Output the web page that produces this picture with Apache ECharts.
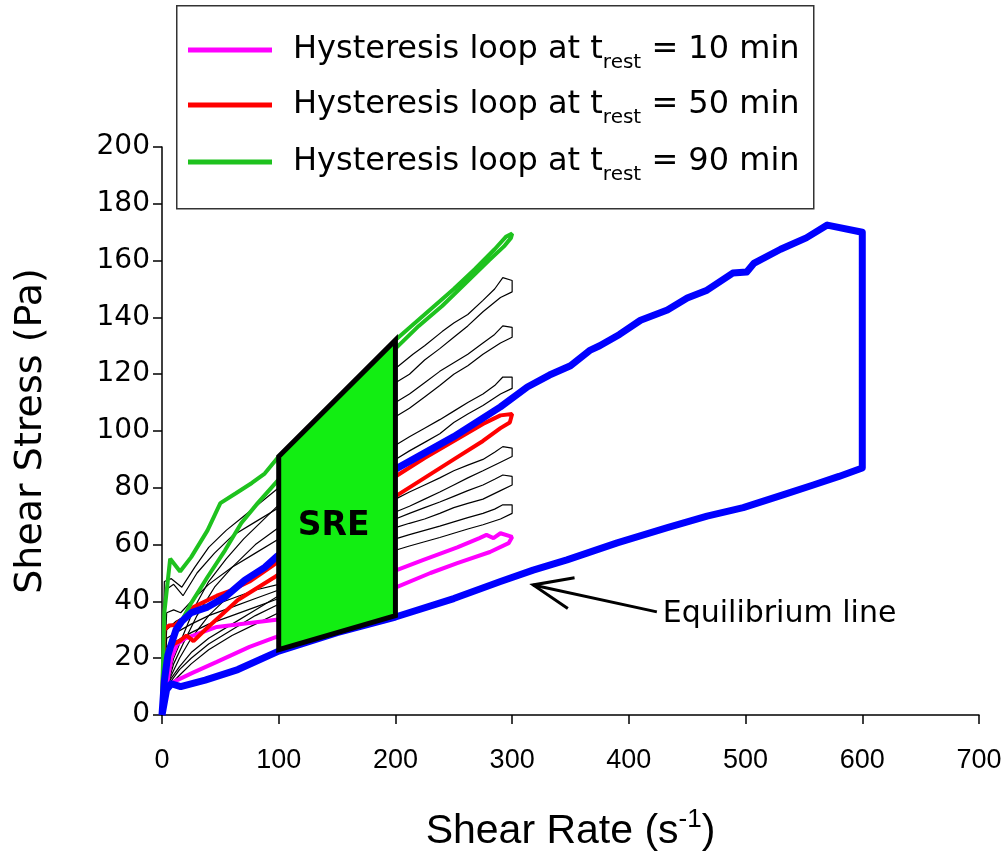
<!DOCTYPE html>
<html><head><meta charset="utf-8">
<script src="https://cdn.jsdelivr.net/npm/echarts@6/dist/echarts.min.js"></script>
<style>html,body{margin:0;padding:0;background:#fff}#c{width:1006px;height:860px}</style>
</head><body><div id="c"></div>
<script>
// ---------- axes ----------
const xAxisRange = [0, 700, 100];
const yAxisRange = [0, 200, 20];
const xTitle = 'Shear Rate (s';
const xTitleSup = '-1';
const yTitle = 'Shear Stress (Pa)';

// ---------- legend ----------
const legendNames = ['10 min', '50 min', '90 min'];
const legendColors = ['#ff00ff', '#ff0000', '#1ec21e'];

// ---------- equilibrium (blue) loop, shear rate / shear stress ----------
const blueLoop = [[0,0],[2,12],[5,21],[8,25],[12,30],[17,33],[25,36],[39,38],[54,41.5],[71,47.5],[88,52],[99,56],[150,72],[202,87],[250,98],[290,108.5],[313,115.5],[332,119.7],[350,123],[367,128.5],[375,130],[392,134],[410,139],[433,142.6],[450,146.8],[467,149.6],[489,155.6],[501,156],[507,159],[530,164],[552,168],[570,172.5],[600,170],[600,128],[600,87],[580,84],[558,81],[532,77.5],[498,73],[467,70],[433,66],[390,60.6],[347,54.6],[318,51],[290,47],[250,41],[200,34.5],[150,29],[100,22.5],[65,16],[37,12.3],[16,10],[8,11],[4,9],[0,0]];

// ---------- coloured hysteresis loops ----------
const loop10 = [[0,3],[4,10],[8,20],[13,25],[20,27],[27,28],[47,31],[75,32.4],[98,33.5],[150,42],[201,51],[224,54.6],[253,59],[272,62.3],[278,63.4],[284,62.3],[290,64],[300,62.7],[297,60.5],[281,57.4],[253,53.5],[230,50],[201,45],[150,36],[98,27.5],[75,24],[47,18.7],[27,15],[13,12.3],[4,10],[0,3]];
const loop50 = [[0,3],[2,30],[6,31.5],[11,31.7],[18,34],[27,38],[34,39.4],[47,42],[60,44],[75,47],[98,53.5],[150,68],[200,84],[225,90.5],[250,96.5],[275,102.5],[290,105.5],[300,106],[298,103],[290,101],[275,96.5],[250,90],[225,83.5],[200,77],[150,63],[97,48.7],[65,40.5],[37,30],[27,26],[21,28],[15,26],[10,25],[5,22],[2,12],[0,3]];
const loop90 = [[0,5],[2,36],[7,55],[15.5,50.5],[25,55.6],[39,65],[50,74.6],[63,78],[77,81.7],[88,85],[100,91],[150,111],[200,132],[225,141],[250,150],[268,157],[285,164],[295,168.5],[300,169.5],[299,168],[293,165],[280,160],[260,152],[240,144],[220,137],[200,129],[150,106],[98,82],[82,74.6],[68,67.6],[54,58],[39,48.6],[25,39.4],[14,31],[5,23],[1,13],[0,5]];

// ---------- intermediate (black) loops ----------
const loopA = [[0,0],[2,47],[8,48],[17,45],[28,52],[40,59],[55,65],[70,70],[85,75],[100,80],[150,101],[200,122],[215,127],[225,130],[240,135],[250,138],[262,141],[275,146],[285,150],[292,154],[300,153],[300,149],[290,147],[275,142],[262,137],[250,133],[238,129],[225,125],[212,120],[200,117],[150,96],[100,74],[85,68],[70,62],[55,55],[40,47],[28,38],[18,28],[10,20],[5,12],[2,6]];
const loopB = [[0,0],[3,44],[10,46],[18,42],[30,50],[45,57],[60,63],[80,68],[100,73],[150,91],[200,110],[212,113],[225,117],[238,121],[250,124],[262,127],[275,131],[285,134],[292,137],[300,136.5],[300,133],[290,131],[275,127],[262,123],[250,120],[238,116],[225,112],[212,108],[200,105],[150,85],[100,66],[80,60],[60,52],[45,45],[30,35],[18,25],[10,18],[5,11],[2,5]];
const loopC = [[0,0],[4,36],[10,37],[16,36],[25,40],[40,46],[60,52],[80,57],[100,62],[150,78],[200,95],[212,98],[225,101],[238,104],[250,107],[262,110],[275,113],[285,116],[292,119],[300,119],[300,115],[290,113],[275,109],[262,106],[250,103],[238,99],[225,96],[212,93],[200,90],[150,73],[100,56],[80,50],[60,43],[40,35],[25,27],[15,20],[8,14],[4,10],[1,4]];
const loopD = [[0,0],[4,30],[12,33],[25,36],[40,38],[60,41],[80,44],[100,46],[150,61],[200,76],[212,78.5],[225,81],[238,83.5],[250,86],[262,88],[275,90],[285,92.5],[292,94.5],[300,94],[300,91],[290,89],[275,86],[262,83.5],[250,81],[238,78.5],[225,76],[212,73.5],[200,71.5],[150,57],[100,42],[80,37],[60,32],[40,27],[25,22],[15,17],[8,13],[4,10],[1,4]];
const loopE = [[0,0],[4,27],[12,29],[25,32],[40,35],[60,38],[80,41],[100,44],[150,56],[200,69],[212,71],[225,73],[238,75],[250,77],[262,79],[275,81],[285,83],[292,84.5],[300,84],[300,81],[290,79],[275,76],[262,74.5],[250,73],[238,71],[225,69],[212,67.5],[200,66],[150,52],[100,39],[80,35],[60,30],[40,25],[25,20],[15,16],[8,12],[4,9],[1,4]];
const loopF = [[0,0],[4,24],[12,26],[25,29],[40,32],[60,35],[80,38],[100,41],[150,51],[200,62],[212,63.5],[225,65],[238,66.5],[250,68],[262,69.5],[275,71],[285,72.5],[292,74],[300,74],[300,71],[290,69],[275,67],[262,65.5],[250,64],[238,62.5],[225,61],[212,59.5],[200,58],[150,47],[100,36],[80,32],[60,28],[40,23],[25,18],[15,14],[8,11],[4,9],[1,4]];
const blackLoops = [loopA, loopB, loopC, loopD, loopE, loopF];

// ---------- SRE area and annotation ----------
const srePolygon = [[100,91],[200,132],[200,35],[100,23]];
const sreLabelPos = [147, 66.5];
const sreLabel = 'SRE';
const arrowTail = [424, 36.3];
const arrowTip = [318, 45.8];
const eqLabel = 'Equilibrium line';
const eqLabelPos = [429, 35.5];

const chart = echarts.init(document.getElementById('c'), null, {renderer: 'canvas'});
const FONT = 'DejaVu Sans';
const XFONT = '"Liberation Sans", Arial, sans-serif';

const series = [];
blackLoops.forEach((d, i) => series.push({
  name: 'loop' + i, type: 'line', data: d, symbol: 'none', smooth: false, z: 2,
  lineStyle: {color: '#000', width: 1.2}, silent: true
}));
series.push({name: legendNames[0], type: 'line', data: loop10, symbol: 'none', z: 3, lineStyle: {color: legendColors[0], width: 4}});
series.push({name: legendNames[1], type: 'line', data: loop50, symbol: 'none', z: 3, lineStyle: {color: legendColors[1], width: 4}});
series.push({name: legendNames[2], type: 'line', data: loop90, symbol: 'none', z: 3, lineStyle: {color: legendColors[2], width: 4}});
series.push({name: 'equilibrium', type: 'line', data: blueLoop, symbol: 'none', z: 4, lineStyle: {color: '#0000ff', width: 7, join: 'round'}});
series.push({
  name: 'SRE', type: 'custom', z: 5, data: [sreLabelPos],
  renderItem: function (params, api) {
    const pts = srePolygon.map(p => api.coord(p));
    const c = api.coord(sreLabelPos);
    return {type: 'group', children: [
      {type: 'polygon', shape: {points: pts}, style: {fill: '#12ee12', stroke: '#000', lineWidth: 5, lineJoin: 'miter'}},
      {type: 'text', x: c[0], y: c[1], style: {text: sreLabel, fontFamily: FONT, fontWeight: 'bold', fontSize: 33, fill: '#000', align: 'center', verticalAlign: 'middle'}}
    ]};
  }
});

chart.setOption({
  animation: false,
  backgroundColor: '#fff',
  grid: {left: 162, right: 27, top: 147, bottom: 145, containLabel: false},
  xAxis: {
    type: 'value', min: xAxisRange[0], max: xAxisRange[1], interval: xAxisRange[2],
    name: '{a|' + xTitle + '}{b|' + xTitleSup + '}{a|)}', nameLocation: 'middle', nameGap: 92,
    nameTextStyle: {rich: {
      a: {fontFamily: XFONT, fontSize: 41, lineHeight: 50, color: '#000'},
      b: {fontFamily: XFONT, fontSize: 26, lineHeight: 30, color: '#000', verticalAlign: 'top'}
    }},
    axisLine: {onZero: false, lineStyle: {color: '#000', width: 1.5}},
    axisTick: {inside: false, length: 9, lineStyle: {color: '#000', width: 1.5}},
    axisLabel: {fontFamily: XFONT, fontSize: 27, color: '#000', margin: 32},
    splitLine: {show: false}
  },
  yAxis: {
    type: 'value', min: yAxisRange[0], max: yAxisRange[1], interval: yAxisRange[2],
    name: yTitle, nameLocation: 'middle', nameGap: 112, nameRotate: 90,
    nameTextStyle: {fontFamily: FONT, fontSize: 38, color: '#000'},
    axisLine: {onZero: false, lineStyle: {color: '#000', width: 1.5}},
    axisTick: {inside: false, length: 9, lineStyle: {color: '#000', width: 1.5}},
    axisLabel: {fontFamily: FONT, fontSize: 28, color: '#000', margin: 12},
    splitLine: {show: false}
  },
  series: series
});

// ---------- legend box and annotations (graphic) ----------
const graphics = [];
graphics.push({type: 'rect', left: 176, top: 5, shape: {x: 0, y: 0, width: 637, height: 203}, style: {fill: '#fff', stroke: '#333', lineWidth: 1.5}, z: 10});
const rowY = [50, 105, 162];
legendNames.forEach((nm, i) => {
  graphics.push({type: 'line', shape: {x1: 188, y1: rowY[i], x2: 272, y2: rowY[i]}, style: {stroke: legendColors[i], lineWidth: 5}, z: 11});
  graphics.push({type: 'text', x: 293, y: rowY[i], z: 11, style: {
    text: '{a|Hysteresis loop at t}{s|rest}{a| = ' + nm + '}',
    verticalAlign: 'middle', fill: '#000',
    rich: {
      a: {fontFamily: FONT, fontSize: 32, lineHeight: 46, fill: '#000'},
      s: {fontFamily: FONT, fontSize: 20, lineHeight: 20, verticalAlign: 'bottom', fill: '#000'}
    }
  }});
});
const tail = chart.convertToPixel({gridIndex: 0}, arrowTail);
const tip = chart.convertToPixel({gridIndex: 0}, arrowTip);
const ang = Math.atan2(tail[1] - tip[1], tail[0] - tip[0]);
const wl = 42, wa = 22 * Math.PI / 180;
graphics.push({type: 'polyline', z: 11, shape: {points: [tail, tip]}, style: {stroke: '#000', lineWidth: 3, fill: null}});
graphics.push({type: 'polyline', z: 11, shape: {points: [
  [tip[0] + wl * Math.cos(ang + wa), tip[1] + wl * Math.sin(ang + wa)], tip,
  [tip[0] + wl * Math.cos(ang - wa), tip[1] + wl * Math.sin(ang - wa)]
]}, style: {stroke: '#000', lineWidth: 3, fill: null, lineJoin: 'miter'}});
const lp = chart.convertToPixel({gridIndex: 0}, eqLabelPos);
graphics.push({type: 'text', x: lp[0], y: lp[1], z: 11, style: {text: eqLabel, fontFamily: FONT, fontSize: 30, fill: '#000', verticalAlign: 'middle'}});
chart.setOption({graphic: graphics});
</script>
</body></html>
